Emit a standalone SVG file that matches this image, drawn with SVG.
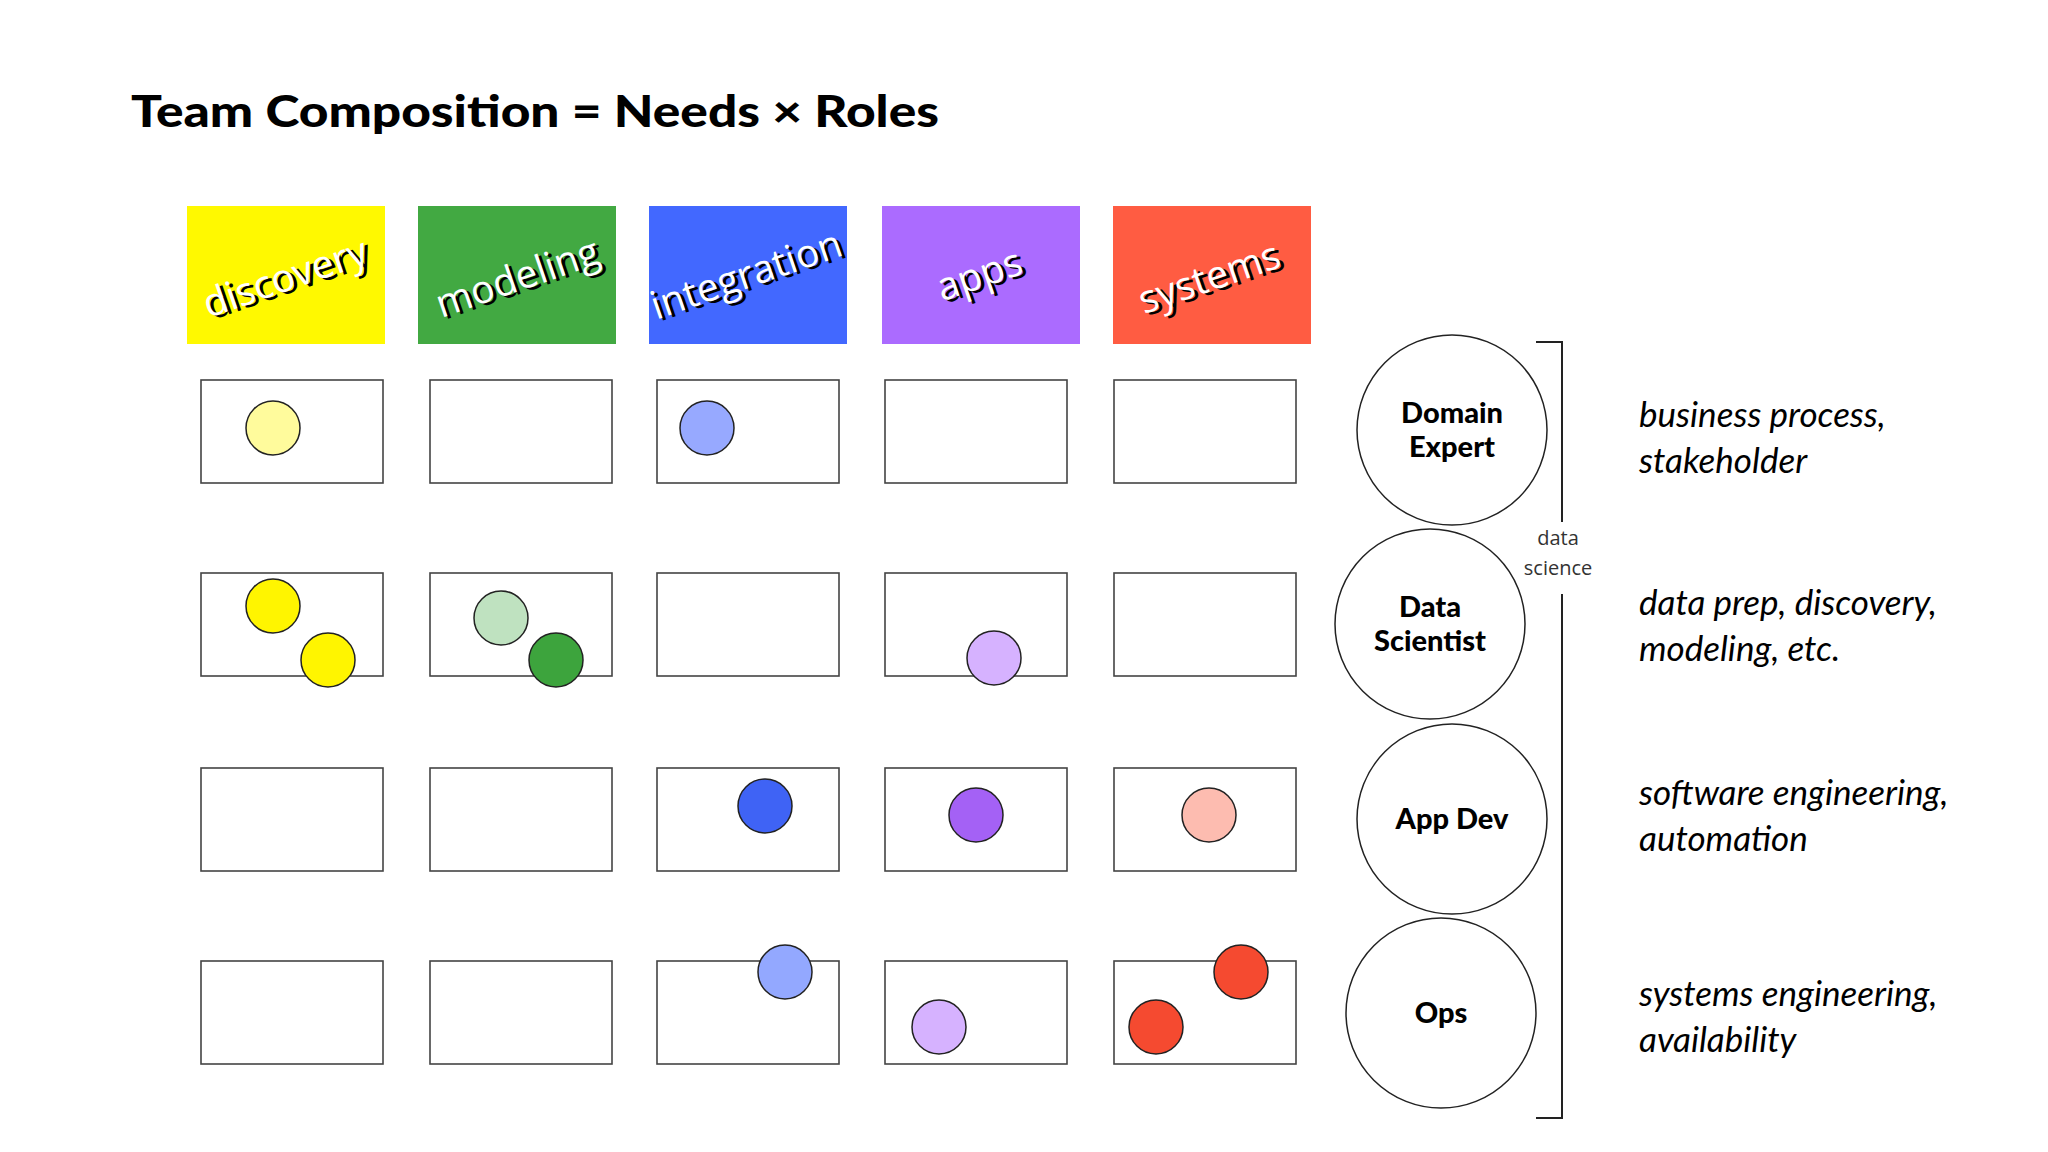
<svg xmlns="http://www.w3.org/2000/svg" width="2048" height="1152" viewBox="0 0 2048 1152">
<style>
.cell{fill:#fff;stroke:#444;stroke-width:1.6}
.dot{stroke:#222;stroke-width:1.5}
.role{fill:#fff;stroke:#222;stroke-width:1.5}
.rl{font-family:Lato,"Liberation Sans",sans-serif;font-weight:900;font-size:29px;text-anchor:middle;fill:#000}
.hd{font-family:"Open Sans","Liberation Sans",sans-serif;font-size:39px;text-anchor:middle}
.sh{fill:#000}
.fg{fill:#fff}
.desc{font-family:Lato,"Liberation Sans",sans-serif;font-style:italic;font-size:35px;fill:#000}
.ds{font-family:"Open Sans","Liberation Sans",sans-serif;font-size:20px;text-anchor:middle;fill:#333}
</style>
<rect width="2048" height="1152" fill="#fff"/>
<text x="131" y="127" font-family="Lato,'Liberation Sans',sans-serif" font-weight="900" font-size="44" textLength="808" lengthAdjust="spacingAndGlyphs">Team Composition = Needs × Roles</text>
<g id="headers">
<rect x="187" y="206" width="198" height="138" fill="#fff900"/>
<rect x="418" y="206" width="198" height="138" fill="#42a942"/>
<rect x="649" y="206" width="198" height="138" fill="#4268ff"/>
<rect x="882" y="206" width="198" height="138" fill="#ab6bff"/>
<rect x="1113" y="206" width="198" height="138" fill="#ff5c42"/>
<g class="hd">
<g transform="translate(285,277) rotate(-19)"><text class="sh" x="3" y="17">discovery</text><text class="fg" x="0" y="14">discovery</text></g>
<g transform="translate(517,277) rotate(-19)"><text class="sh" x="3" y="17">modeling</text><text class="fg" x="0" y="14">modeling</text></g>
<g transform="translate(746,274) rotate(-19)"><text class="sh" x="3" y="17">integration</text><text class="fg" x="0" y="14">integration</text></g>
<g transform="translate(979,274) rotate(-19)"><text class="sh" x="3" y="17">apps</text><text class="fg" x="0" y="14">apps</text></g>
<g transform="translate(1209,277) rotate(-19)"><text class="sh" x="3" y="17">systems</text><text class="fg" x="0" y="14">systems</text></g>
</g>
</g>
<g id="grid">
<rect class="cell" x="201" y="380" width="182" height="103"/><rect class="cell" x="430" y="380" width="182" height="103"/><rect class="cell" x="657" y="380" width="182" height="103"/><rect class="cell" x="885" y="380" width="182" height="103"/><rect class="cell" x="1114" y="380" width="182" height="103"/>
<rect class="cell" x="201" y="573" width="182" height="103"/><rect class="cell" x="430" y="573" width="182" height="103"/><rect class="cell" x="657" y="573" width="182" height="103"/><rect class="cell" x="885" y="573" width="182" height="103"/><rect class="cell" x="1114" y="573" width="182" height="103"/>
<rect class="cell" x="201" y="768" width="182" height="103"/><rect class="cell" x="430" y="768" width="182" height="103"/><rect class="cell" x="657" y="768" width="182" height="103"/><rect class="cell" x="885" y="768" width="182" height="103"/><rect class="cell" x="1114" y="768" width="182" height="103"/>
<rect class="cell" x="201" y="961" width="182" height="103"/><rect class="cell" x="430" y="961" width="182" height="103"/><rect class="cell" x="657" y="961" width="182" height="103"/><rect class="cell" x="885" y="961" width="182" height="103"/><rect class="cell" x="1114" y="961" width="182" height="103"/>
</g>
<g id="dots">
<circle class="dot" cx="273" cy="428" r="27" fill="#fffb9c"/>
<circle class="dot" cx="707" cy="428" r="27" fill="#97a9ff"/>
<circle class="dot" cx="273" cy="606" r="27" fill="#fff500"/>
<circle class="dot" cx="328" cy="660" r="27" fill="#fff500"/>
<circle class="dot" cx="501" cy="618" r="27" fill="#bfe2c0"/>
<circle class="dot" cx="556" cy="660" r="27" fill="#3da43d"/>
<circle class="dot" cx="994" cy="658" r="27" fill="#d6b2ff"/>
<circle class="dot" cx="765" cy="806" r="27" fill="#3f63f5"/>
<circle class="dot" cx="976" cy="815" r="27" fill="#a461f5"/>
<circle class="dot" cx="1209" cy="815" r="27" fill="#fdbcb0"/>
<circle class="dot" cx="785" cy="972" r="27" fill="#93a8ff"/>
<circle class="dot" cx="939" cy="1027" r="27" fill="#d6b2ff"/>
<circle class="dot" cx="1241" cy="972" r="27" fill="#f54a30"/>
<circle class="dot" cx="1156" cy="1027" r="27" fill="#f54a30"/>
</g>
<g id="role-domain"><circle class="role" cx="1452" cy="430" r="95"/><text class="rl" x="1452" y="423">Domain</text><text class="rl" x="1452" y="457">Expert</text></g>
<g id="role-ds"><circle class="role" cx="1430" cy="624" r="95"/><text class="rl" x="1430" y="617">Data</text><text class="rl" x="1430" y="651">Scientist</text></g>
<g id="role-app"><circle class="role" cx="1452" cy="819" r="95"/><text class="rl" x="1452" y="829">App Dev</text></g>
<g id="role-ops"><circle class="role" cx="1441" cy="1013" r="95"/><text class="rl" x="1441" y="1023">Ops</text></g>
<g id="connectors" fill="none" stroke="#222" stroke-width="2">
<path d="M1536 342 H1562 V522"/>
<path d="M1562 594 V1118 H1536"/>
</g>
<text class="ds" x="1558" y="545">data</text>
<text class="ds" x="1558" y="575">science</text>
<g class="desc">
<text x="1639" y="427">business process,</text><text x="1639" y="473">stakeholder</text>
<text x="1639" y="615">data prep, discovery,</text><text x="1639" y="661">modeling, etc.</text>
<text x="1639" y="805">software engineering,</text><text x="1639" y="851">automation</text>
<text x="1639" y="1006">systems engineering,</text><text x="1639" y="1052">availability</text>
</g>
</svg>
